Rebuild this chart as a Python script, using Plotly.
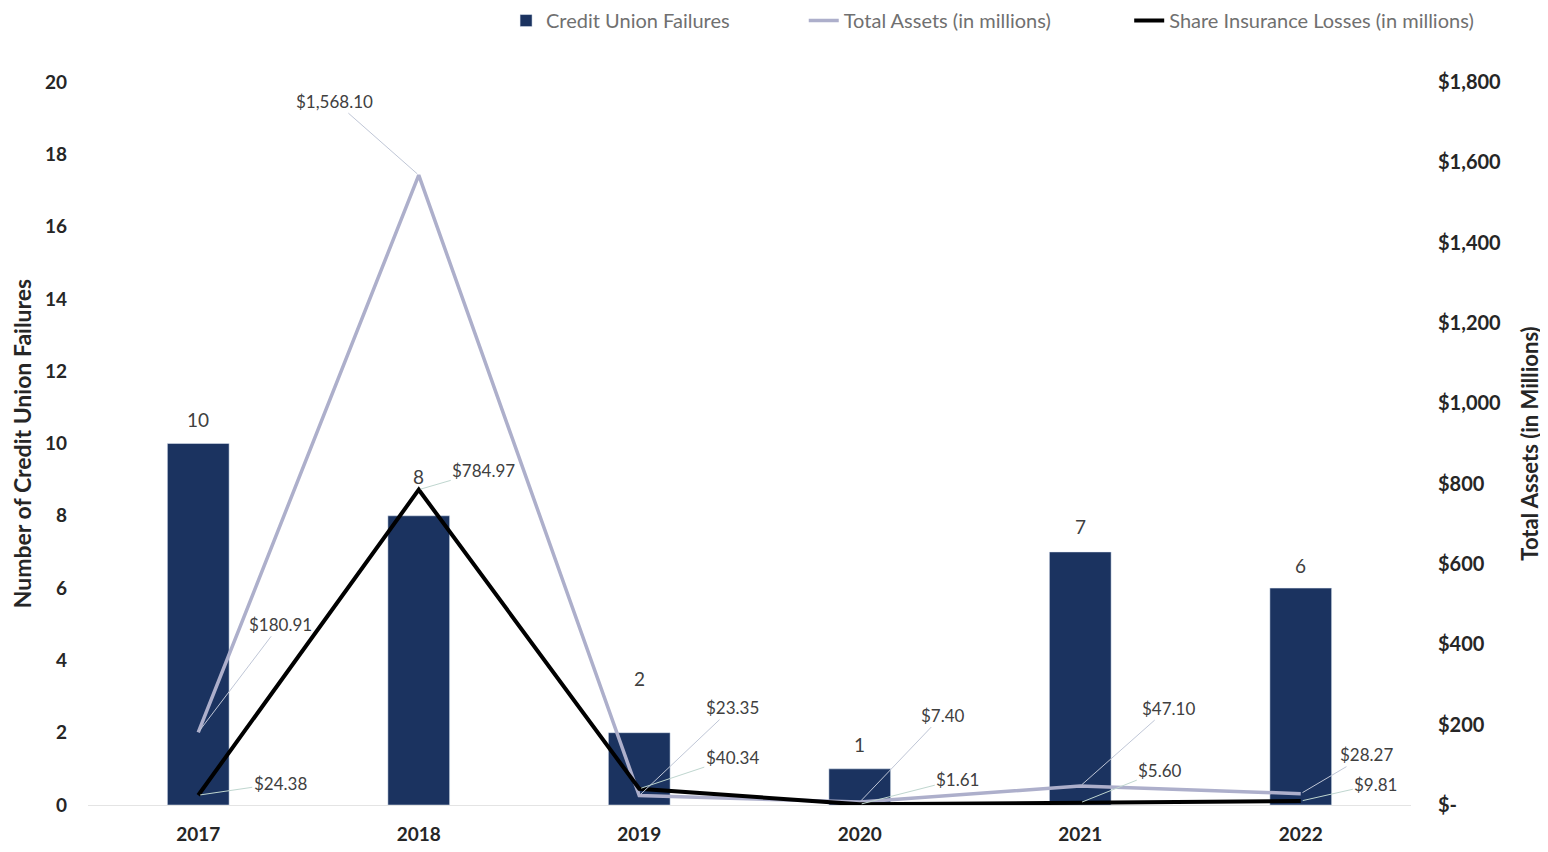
import plotly.graph_objects as go

years = ["2017", "2018", "2019", "2020", "2021", "2022"]
failures = [10, 8, 2, 1, 7, 6]
total_assets = [180.91, 1568.10, 23.35, 7.40, 47.10, 28.27]
share_losses = [24.38, 784.97, 40.34, 1.61, 5.60, 9.81]

left_ticks = [0, 2, 4, 6, 8, 10, 12, 14, 16, 18, 20]
right_ticks = [0, 200, 400, 600, 800, 1000, 1200, 1400, 1600, 1800]
right_ticktext = ["$-", "$200", "$400", "$600", "$800", "$1,000", "$1,200", "$1,400", "$1,600", "$1,800"]

# label offsets (pixels) for leader-line labels
assets_offsets = [(82, -108), (-84, -74), (93, -88), (83, -87), (88, -78), (66, -39)]
losses_offsets = [(82, -12), (65, -19), (93, -31), (98, -25), (80, -32), (75, -17)]
bar_label_shift = [24, 39, 54, 24, 25, 23]

navy = "#1B3360"
assets_color = "#ADAFCB"
font_family = "Lato, 'Open Sans', sans-serif"

fig = go.Figure()
fig.add_trace(go.Bar(x=years, y=failures, name="Credit Union Failures",
                     marker=dict(color=navy), width=0.28, yaxis="y", legend="legend"))
fig.add_trace(go.Scatter(x=years, y=total_assets, name="Total Assets (in millions)",
                         mode="lines", line=dict(color=assets_color, width=3.5), yaxis="y2",
                         legend="legend2"))
fig.add_trace(go.Scatter(x=years, y=share_losses, name="Share Insurance Losses (in millions)",
                         mode="lines", line=dict(color="#000000", width=4), yaxis="y2",
                         legend="legend3"))

annotations = []
for i, yr in enumerate(years):
    annotations.append(dict(x=i, y=failures[i], xref="x", yref="y", text=str(failures[i]),
                            showarrow=False, yshift=bar_label_shift[i],
                            font=dict(size=19, color="#404040", family=font_family)))
    ax, ay = assets_offsets[i]
    annotations.append(dict(x=i, y=total_assets[i], xref="x", yref="y2",
                            text="${:,.2f}".format(total_assets[i]),
                            showarrow=True, arrowhead=0, arrowwidth=1, arrowcolor="#BFC6D6",
                            ax=ax, ay=ay, standoff=2,
                            font=dict(size=17, color="#404040", family=font_family)))
    ax, ay = losses_offsets[i]
    annotations.append(dict(x=i, y=share_losses[i], xref="x", yref="y2",
                            text="${:,.2f}".format(share_losses[i]),
                            showarrow=True, arrowhead=0, arrowwidth=1, arrowcolor="#BFD6CF",
                            ax=ax, ay=ay, standoff=2,
                            font=dict(size=17, color="#404040", family=font_family)))

legend_style = dict(orientation="h", xanchor="left", y=1.085, yanchor="middle",
                    font=dict(size=20, color="#707070", family=font_family),
                    bgcolor="rgba(0,0,0,0)", itemwidth=30)

fig.update_layout(
    width=1548, height=852,
    margin=dict(l=80, r=145, t=74, b=55, autoexpand=False),
    paper_bgcolor="white", plot_bgcolor="white",
    font=dict(family=font_family, color="#262626"),
    showlegend=True,
    legend=dict(x=0.316, **legend_style),
    legend2=dict(x=0.541, **legend_style),
    legend3=dict(x=0.787, **legend_style),
    xaxis=dict(type="category", showgrid=False, showline=True, linecolor="#E4E4E4",
               linewidth=1, ticks="", ticklabelstandoff=12,
               tickfont=dict(size=19, color="#262626", family=font_family, weight="bold"),
               range=[-0.5, 5.5]),
    yaxis=dict(range=[0, 20], tickvals=left_ticks, showgrid=False, zeroline=False,
               tickfont=dict(size=19, color="#262626", family=font_family, weight="bold"),
               ticklabelstandoff=20,
               title=dict(text="Number of Credit Union Failures", standoff=10,
                          font=dict(size=23, color="#262626", family=font_family, weight="bold"))),
    yaxis2=dict(range=[0, 1800], tickvals=right_ticks, ticktext=right_ticktext,
                overlaying="y", side="right", showgrid=False, zeroline=False,
                tickfont=dict(size=20, color="#262626", family=font_family, weight="bold"),
                ticklabelstandoff=26,
                title=dict(text="Total Assets (in Millions)", standoff=22,
                           font=dict(size=22, color="#262626", family=font_family, weight="bold"))),
    annotations=annotations,
)

fig.write_html("out.html")
